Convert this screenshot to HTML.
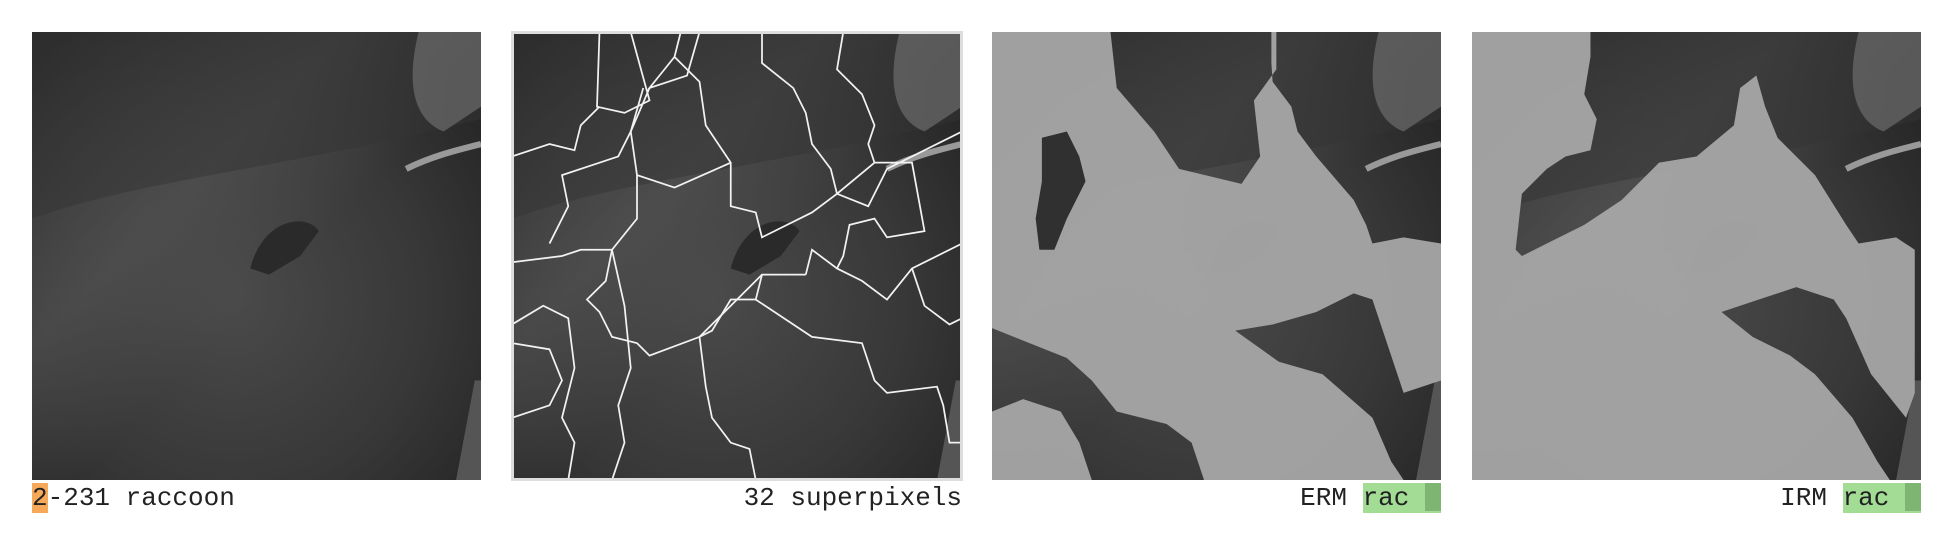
<!DOCTYPE html>
<html><head><meta charset="utf-8"><style>
html,body{margin:0;padding:0;background:#fff;width:1952px;height:544px;overflow:hidden}
.p{position:absolute;top:32px;width:449px;height:448px}
.lbl{position:absolute;top:480px;height:36px;font:26px "Liberation Mono","DejaVu Sans Mono",monospace;color:#222;line-height:36px;white-space:pre}
</style></head><body>
<svg width="0" height="0" style="position:absolute"><defs>
<radialGradient id="ph" cx="0.45" cy="0.6" r="0.7"><stop offset="0" stop-color="#4a4a4a"/><stop offset="0.6" stop-color="#383838"/><stop offset="1" stop-color="#262626"/></radialGradient>
<linearGradient id="band" x1="0" y1="0" x2="1" y2="1"><stop offset="0" stop-color="#555" stop-opacity="0"/><stop offset="0.35" stop-color="#5a5a5a" stop-opacity="0.5"/><stop offset="0.55" stop-color="#555" stop-opacity="0"/></linearGradient>
<g id="photo">
<rect width="360" height="360" fill="url(#ph)"/>
<rect width="360" height="360" fill="url(#band)"/>
<path d="M0,150 C80,120 200,110 360,70 L360,0 L0,0Z" fill="#333" opacity="0.5"/>
<path d="M310,0 C300,40 305,70 330,80 L360,60 L360,0Z" fill="#777" opacity="0.6"/>
<path d="M300,110 C320,100 340,95 360,90" stroke="#999" stroke-width="5" fill="none"/>
<path d="M340,360 L355,280 L360,280 L360,360Z" fill="#555"/>
<path d="M175,190 C185,150 220,145 230,160 L215,180 L190,195Z" fill="#2a2a2a"/>
</g>
</defs></svg>

<svg class="p" style="left:32px" viewBox="0 0 360 360" preserveAspectRatio="none"><use href="#photo"/></svg>
<div class="lbl" style="left:32px"><span style="background:#f7a95a">2</span>-231 raccoon</div>

<svg class="p" style="left:512px;width:450px;outline:3px solid #ddd;outline-offset:-2px" viewBox="0 0 360 360" preserveAspectRatio="none"><use href="#photo"/>
<g stroke="#f2f2f2" stroke-width="1.4" fill="none">
<path d="M70,0 L68,60 L90,65 L110,55 L95,0"/><path d="M135,0 L130,20 L110,45 L140,35 L150,0"/>
<path d="M0,100 L30,90 L50,95 L55,75 L70,60"/><path d="M105,45 L95,80 L85,100 L70,105 L40,115 L45,140 L30,170"/>
<path d="M130,20 L150,40 L155,75 L175,105 L175,140 L195,145 L200,165 L240,145 L260,130"/>
<path d="M110,45 L95,80 L100,115 L130,125 L175,105"/>
<path d="M200,0 L200,25 L225,45 L235,65 L240,90 L255,110 L260,130"/>
<path d="M265,0 L260,30 L280,50 L290,75 L285,90 L290,105 L260,130 L285,140 L300,110 L320,100 L360,80"/>
<path d="M290,105 L320,105 L330,160 L300,165 L290,150 L270,155 L265,180 L260,190"/>
<path d="M100,115 L100,150 L80,175 L55,175 L40,180 L0,185"/>
<path d="M80,175 L75,200 L60,215 L70,225 L80,245 L100,250 L110,260 L150,245 L200,195 L235,195"/>
<path d="M0,235 L25,220 L45,230 L50,270 L40,310 L50,330 L45,360"/>
<path d="M80,175 L90,220 L95,270 L85,300 L90,330 L80,360"/>
<path d="M200,195 L195,215 L240,245 L280,250 L290,280 L300,290 L340,285 L345,300 L350,330 L360,330"/>
<path d="M150,245 L155,285 L160,310 L175,330 L190,335 L195,360"/>
<path d="M235,195 L240,175 L260,190 L280,200 L300,215 L320,190 L360,170"/>
<path d="M320,190 L330,220 L350,235 L360,230"/>
<path d="M0,250 L30,255 L40,280 L30,300 L0,310"/>
<path d="M150,245 L160,240 L175,215 L195,215"/>
</g></svg>
<div class="lbl" style="left:512px;width:450px;text-align:right">32 superpixels</div>

<svg class="p" style="left:992px" viewBox="0 0 360 360" preserveAspectRatio="none"><use href="#photo"/>
<path d="M0,0 L95,0 L100,45 L130,80 L150,110 L200,122 L215,100 L210,55 L228,30 L228,0 L224,0 L224,25 L225,40 L240,60 L245,80 L260,100 L290,135 L300,155 L305,170 L330,165 L360,170 L360,280 L330,290 L320,260 L305,215 L290,210 L260,225 L225,235 L195,240 L230,265 L265,275 L305,310 L320,345 L330,360 L170,360 L160,330 L140,315 L100,305 L80,280 L60,262 L0,238 Z" fill="#a6a6a6" opacity="0.95"/>
<path d="M40,85 L60,80 L70,100 L75,120 L60,150 L50,175 L38,175 L35,150 L40,120 Z" fill="#303030"/>
<path d="M0,305 L25,295 L55,305 L70,330 L80,360 L0,360Z" fill="#a6a6a6" opacity="0.95"/>
</svg>
<div class="lbl" style="left:992px;width:449px;text-align:right">ERM <span style="background:#a3dc95">rac <span style="display:inline-block;width:16px;height:28px;background:#7fb572;vertical-align:-6px"></span></span></div>

<svg class="p" style="left:1472px" viewBox="0 0 360 360" preserveAspectRatio="none"><use href="#photo"/>
<path d="M0,0 L95,0 L95,20 L90,50 L100,70 L95,95 L75,100 L60,110 L40,130 L35,175 L40,180 L60,170 L90,155 L120,135 L150,105 L180,100 L210,75 L215,45 L228,35 L235,60 L245,85 L275,115 L300,155 L310,170 L340,165 L355,175 L355,290 L348,310 L340,300 L320,275 L300,230 L290,215 L260,205 L230,215 L200,225 L225,245 L255,260 L275,275 L305,310 L325,345 L335,360 L0,360 Z" fill="#a6a6a6" opacity="0.95"/>
</svg>
<div class="lbl" style="left:1472px;width:449px;text-align:right">IRM <span style="background:#a3dc95">rac <span style="display:inline-block;width:16px;height:28px;background:#7fb572;vertical-align:-6px"></span></span></div>
</body></html>
